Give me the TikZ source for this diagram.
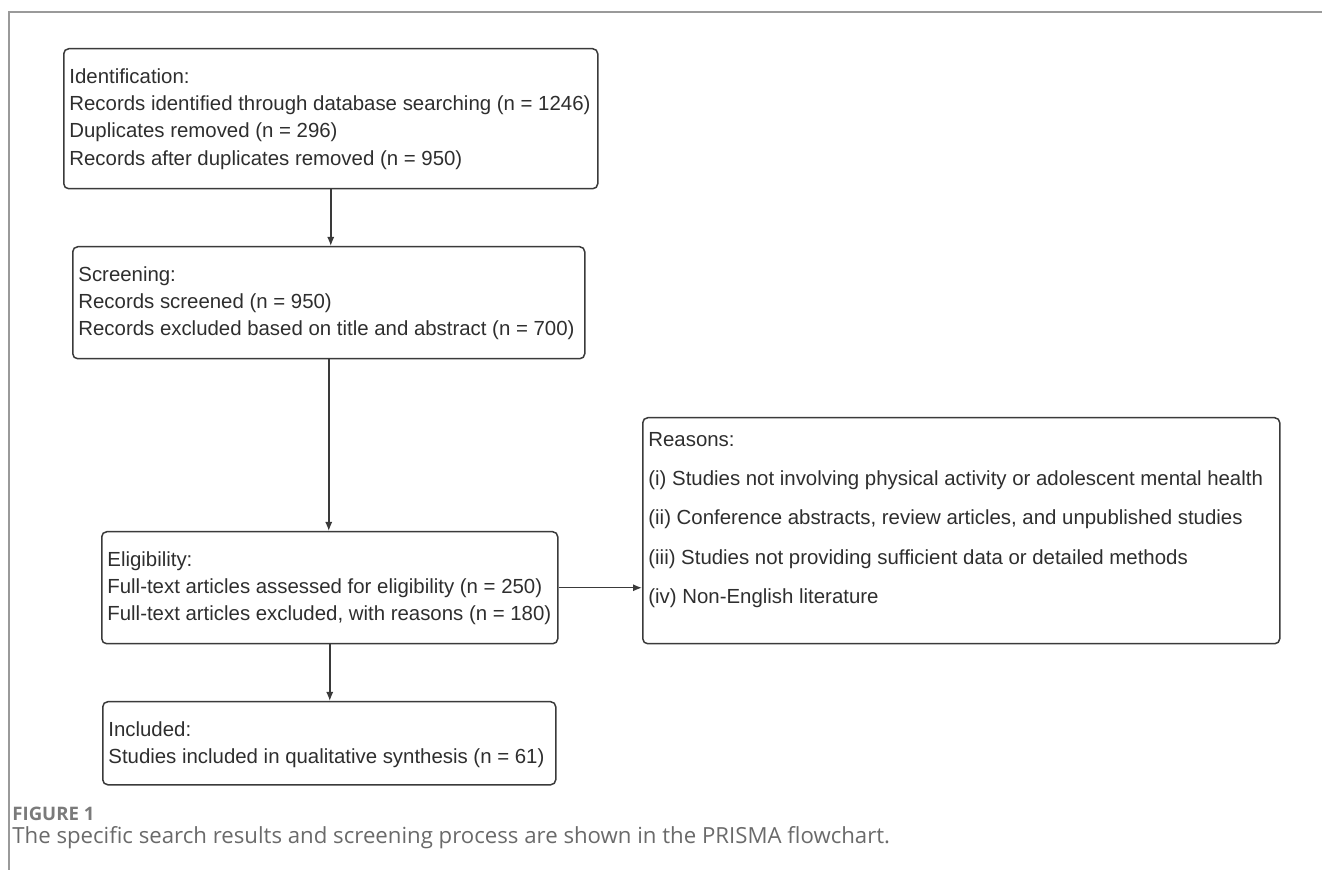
\documentclass[tikz,border=0pt]{standalone}
\usepackage{fontspec}
\setmainfont{Liberation Sans}
\newfontfamily\capfont{Open Sans}
\usepackage{tikz}
\usetikzlibrary{arrows.meta}

\definecolor{boxline}{HTML}{3A3A3A}
\definecolor{txtcol}{HTML}{2E2E2E}
\definecolor{framecol}{HTML}{9A9A9A}
\definecolor{capcol}{HTML}{6A6A6A}
\definecolor{figcol}{HTML}{7A7A7A}

\tikzset{
  stage/.style={draw=boxline, line width=0.75pt, rounded corners=2.5pt, anchor=north west, inner sep=0pt},
  stagetext/.style={anchor=north west, align=left, inner sep=0pt, text=txtcol,
    font=\fontsize{10.2}{13.7}\selectfont},
  flow/.style={draw=boxline, line width=0.75pt, -{Latex[length=4.5pt,width=3.6pt]}},
}

\begin{document}
\begin{tikzpicture}[x=0.5pt, y=-0.5pt]
  \useasboundingbox (0,0) rectangle (1322,870);
  % frame of the figure
  \draw[framecol, line width=0.75pt] (9,870) -- (9,12) -- (1322,12);

  % boxes
  \node[stage, minimum width=267pt, minimum height=70pt] (ident) at (63,48) {};
  \node[stage, minimum width=256pt, minimum height=56pt] (screen) at (72,246) {};
  \node[stage, minimum width=228pt, minimum height=56pt] (elig) at (101,531) {};
  \node[stage, minimum width=318.5pt, minimum height=113pt] (reasons) at (642,417) {};
  \node[stage, minimum width=226.5pt, minimum height=41.5pt] (incl) at (102,701) {};

  % texts
  \node[stagetext] (identtxt) at ([xshift=3pt, yshift=-10pt]ident.north west)
    {Identification:\\
     Records identified through database searching (n = 1246)\\
     Duplicates removed (n = 296)\\
     Records after duplicates removed (n = 950)};
  \node[stagetext] (screentxt) at ([xshift=3pt, yshift=-10pt]screen.north west)
    {Screening:\\
     Records screened (n = 950)\\
     Records excluded based on title and abstract (n = 700)};
  \node[stagetext] (eligtxt) at ([xshift=3pt, yshift=-10pt]elig.north west)
    {Eligibility:\\
     Full-text articles assessed for eligibility (n = 250)\\
     Full-text articles excluded, with reasons (n = 180)};
  \node[stagetext, font=\fontsize{10.2}{19.6}\selectfont] (reasonstxt) at ([xshift=3pt, yshift=-7.5pt]reasons.north west)
    {Reasons:\\
     (i) Studies not involving physical activity or adolescent mental health\\
     (ii) Conference abstracts, review articles, and unpublished studies\\
     (iii) Studies not providing sufficient data or detailed methods\\
     (iv) Non-English literature};
  \node[stagetext] (incltxt) at ([xshift=3pt, yshift=-10pt]incl.north west)
    {Included:\\
     Studies included in qualitative synthesis (n = 61)};

  % connectors
  \path[flow] (ident.south) -- (ident.south |- screen.north);
  \path[flow] (screen.south) -- (screen.south |- elig.north);
  \path[flow] (elig.south) -- (elig.south |- incl.north);
  \path[flow] (elig.east) -- (elig.east -| reasons.west);

  % caption
  \node[anchor=west, inner sep=0pt, text=figcol, font=\capfont\bfseries\fontsize{9.3}{11}\selectfont] (figlabel) at (12,814) {FIGURE 1};
  \node[anchor=west, inner sep=0pt, text=capcol, font=\capfont\fontsize{11.1}{13}\selectfont] (figcap) at (12,838)
    {The specific search results and screening process are shown in the PRISMA flowchart.};
\end{tikzpicture}
\end{document}
